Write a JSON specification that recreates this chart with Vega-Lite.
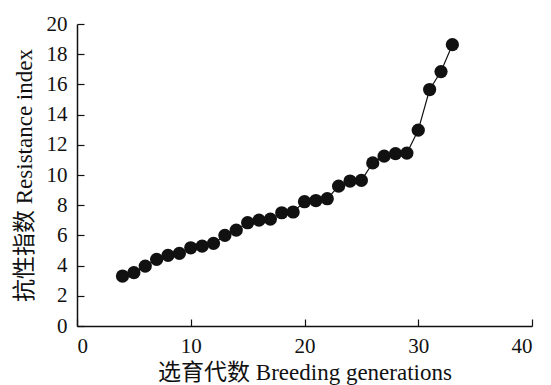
{
  "$schema": "https://vega.github.io/schema/vega-lite/v6.json",
  "autosize": "none",
  "width": 455,
  "height": 302,
  "padding": {"left": 77, "top": 24, "right": 19, "bottom": 59},
  "background": "white",
  "config": {
    "view": {"stroke": null},
    "font": "Liberation Serif",
    "axis": {
      "grid": false,
      "domainColor": "#111",
      "domainWidth": 1.5,
      "tickColor": "#111",
      "tickWidth": 1.2,
      "tickSize": -7,
      "labelFont": "Liberation Serif",
      "labelFontSize": 21,
      "labelColor": "#111",
      "titleFont": "Liberation Serif, Noto Sans CJK SC",
      "titleFontSize": 23,
      "titleFontWeight": "normal",
      "titleColor": "#111"
    }
  },
  "data": {
    "values": [
      {"g": 4, "r": 3.31}, {"g": 5, "r": 3.53}, {"g": 6, "r": 3.97}, {"g": 7, "r": 4.41},
      {"g": 8, "r": 4.68}, {"g": 9, "r": 4.81}, {"g": 10, "r": 5.18}, {"g": 11, "r": 5.29},
      {"g": 12, "r": 5.47}, {"g": 13, "r": 6.0}, {"g": 14, "r": 6.35}, {"g": 15, "r": 6.84},
      {"g": 16, "r": 7.01}, {"g": 17, "r": 7.08}, {"g": 18, "r": 7.5}, {"g": 19, "r": 7.55},
      {"g": 20, "r": 8.23}, {"g": 21, "r": 8.31}, {"g": 22, "r": 8.43}, {"g": 23, "r": 9.26},
      {"g": 24, "r": 9.6}, {"g": 25, "r": 9.64}, {"g": 26, "r": 10.8}, {"g": 27, "r": 11.25},
      {"g": 28, "r": 11.42}, {"g": 29, "r": 11.45}, {"g": 30, "r": 12.97}, {"g": 31, "r": 15.66},
      {"g": 32, "r": 16.85}, {"g": 33, "r": 18.63}
    ]
  },
  "encoding": {
    "x": {
      "field": "g", "type": "quantitative",
      "scale": {"domain": [0, 40], "nice": false, "zero": false},
      "axis": {"values": [0, 10, 20, 30, 40], "title": "选育代数 Breeding generations", "labelPadding": 16, "titlePadding": 5}
    },
    "y": {
      "field": "r", "type": "quantitative",
      "scale": {"domain": [0, 20], "nice": false},
      "axis": {"values": [0, 2, 4, 6, 8, 10, 12, 14, 16, 18, 20], "title": "抗性指数 Resistance index", "labelPadding": 17, "titlePadding": 10}
    }
  },
  "layer": [
    {"mark": {"type": "line", "color": "#111", "strokeWidth": 1.2}},
    {"mark": {"type": "point", "filled": true, "color": "#111", "opacity": 1, "size": 175}}
  ]
}
